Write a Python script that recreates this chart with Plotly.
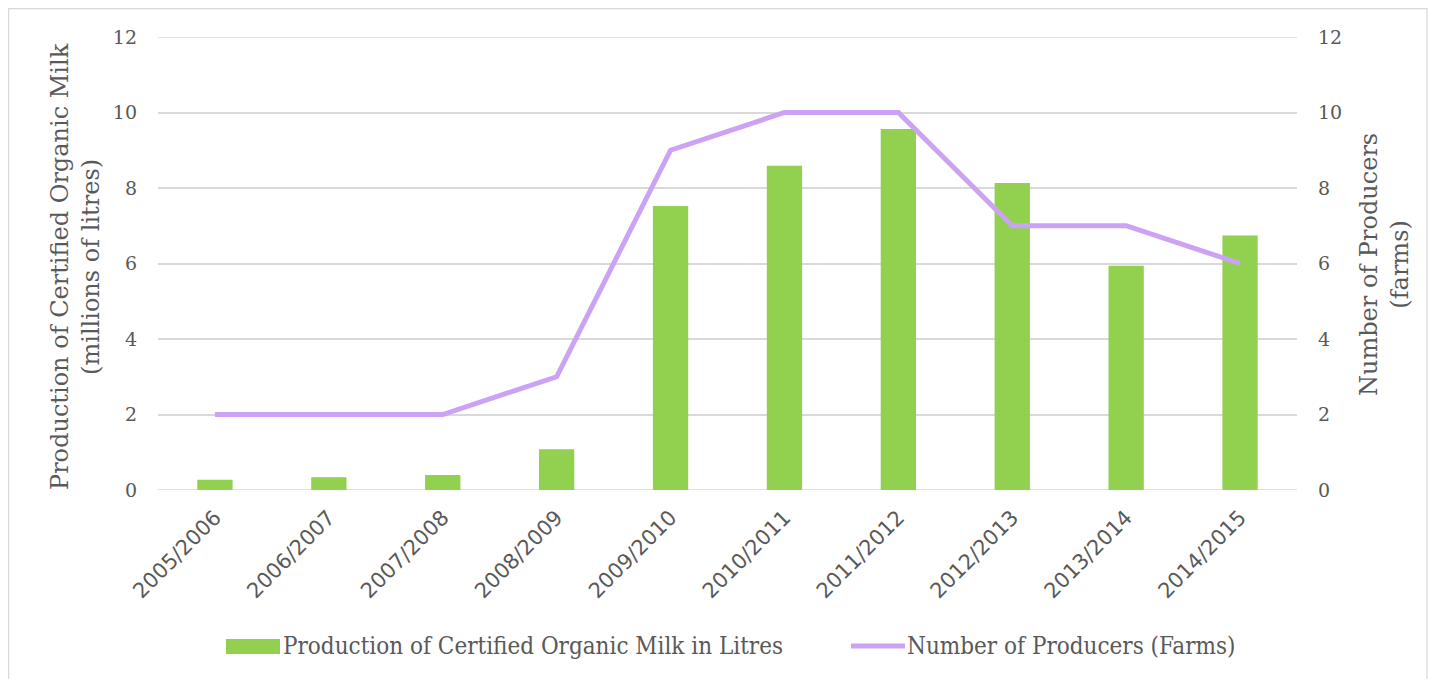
import plotly.graph_objects as go

categories = ["2005/2006", "2006/2007", "2007/2008", "2008/2009", "2009/2010",
              "2010/2011", "2011/2012", "2012/2013", "2013/2014", "2014/2015"]
milk_millions = [0.27, 0.34, 0.40, 1.08, 7.52, 8.59, 9.56, 8.13, 5.94, 6.74]
producers = [2, 2, 2, 3, 9, 10, 10, 7, 7, 6]
y_ticks = [0, 2, 4, 6, 8, 10, 12]
bar_name = "Production of Certified Organic Milk in Litres"
line_name = "Number of Producers (Farms)"

# page has an 8px body margin; figure sits at (8, 8)
OFF = 8
W, H = 1440, 671
L, T = 158 - OFF, 37 - OFF
R = W - (1297 - OFF)
B = H - (490 - OFF)
pw, ph = W - L - R, H - T - B


def px(xp):
    return (xp - OFF - L) / pw


def py(yp):
    return (T + ph - (yp - OFF)) / ph


serif = "DejaVu Serif"
grey = "#595959"
green = "#92D050"
lav = "#CBA2F4"
gridc = "#d9d9d9"

fig = go.Figure()
fig.add_trace(go.Bar(
    x=categories, y=milk_millions, name=bar_name,
    marker=dict(color=green, line=dict(width=0)), width=0.31, yaxis="y"))
fig.add_trace(go.Scatter(
    x=categories, y=producers, name=line_name, mode="lines",
    line=dict(color=lav, width=5), yaxis="y2"))

fig.update_layout(
    width=W, height=H,
    margin=dict(l=L, r=R, t=T, b=B, autoexpand=False),
    paper_bgcolor="white", plot_bgcolor="white",
    font=dict(family=serif, color=grey),
    showlegend=False,
    xaxis=dict(tickangle=-45, tickfont=dict(family="DejaVu Sans", size=21, color=grey),
               showline=False, showgrid=False, ticks="", ticklabelstandoff=10),
    yaxis=dict(range=[0, 12], tickvals=y_ticks, showgrid=True, gridcolor=gridc,
               gridwidth=1.5, zeroline=False, ticks="", ticklabelstandoff=20,
               tickfont=dict(size=19, color=grey)),
    yaxis2=dict(range=[0, 12], tickvals=y_ticks, overlaying="y", side="right",
                showgrid=False, zeroline=False, ticks="", ticklabelstandoff=20,
                tickfont=dict(size=19, color=grey)),
)

# edge gridlines at 0 and 12
for v in (y_ticks[0], y_ticks[-1]):
    fig.add_shape(type="line", xref="paper", yref="y", x0=0, x1=1, y0=v, y1=v,
                  line=dict(color=gridc, width=1.5), layer="below")

# outer chart border
fig.add_shape(type="rect", xref="paper", yref="paper",
              x0=px(8.6), x1=px(1427), y0=py(679.5), y1=py(8.6),
              line=dict(color=gridc, width=1.2), fillcolor="rgba(0,0,0,0)", layer="below")

# axis titles
fig.add_annotation(xref="paper", yref="paper", x=px(75), y=py(267), textangle=-90,
                   text="Production of Certified Organic Milk<br>(millions of litres)",
                   showarrow=False, font=dict(size=24, color=grey, family=serif),
                   xanchor="center", yanchor="middle")
fig.add_annotation(xref="paper", yref="paper", x=px(1384), y=py(265), textangle=-90,
                   text="Number of Producers<br>(farms)",
                   showarrow=False, font=dict(size=24, color=grey, family=serif),
                   xanchor="center", yanchor="middle")

# legend
leg_font = dict(size=24, color=grey, family="DejaVu Serif Condensed, " + serif)
fig.add_shape(type="rect", xref="paper", yref="paper",
              x0=px(226), x1=px(280), y0=py(654), y1=py(639),
              line=dict(width=0), fillcolor=green)
fig.add_annotation(xref="paper", yref="paper", x=px(281), y=py(646), text=bar_name,
                   showarrow=False, xanchor="left", yanchor="middle", font=leg_font)
fig.add_shape(type="line", xref="paper", yref="paper",
              x0=px(851), x1=px(905), y0=py(646), y1=py(646),
              line=dict(color=lav, width=5))
fig.add_annotation(xref="paper", yref="paper", x=px(905), y=py(646), text=line_name,
                   showarrow=False, xanchor="left", yanchor="middle", font=leg_font)

fig.write_html("out.html")
